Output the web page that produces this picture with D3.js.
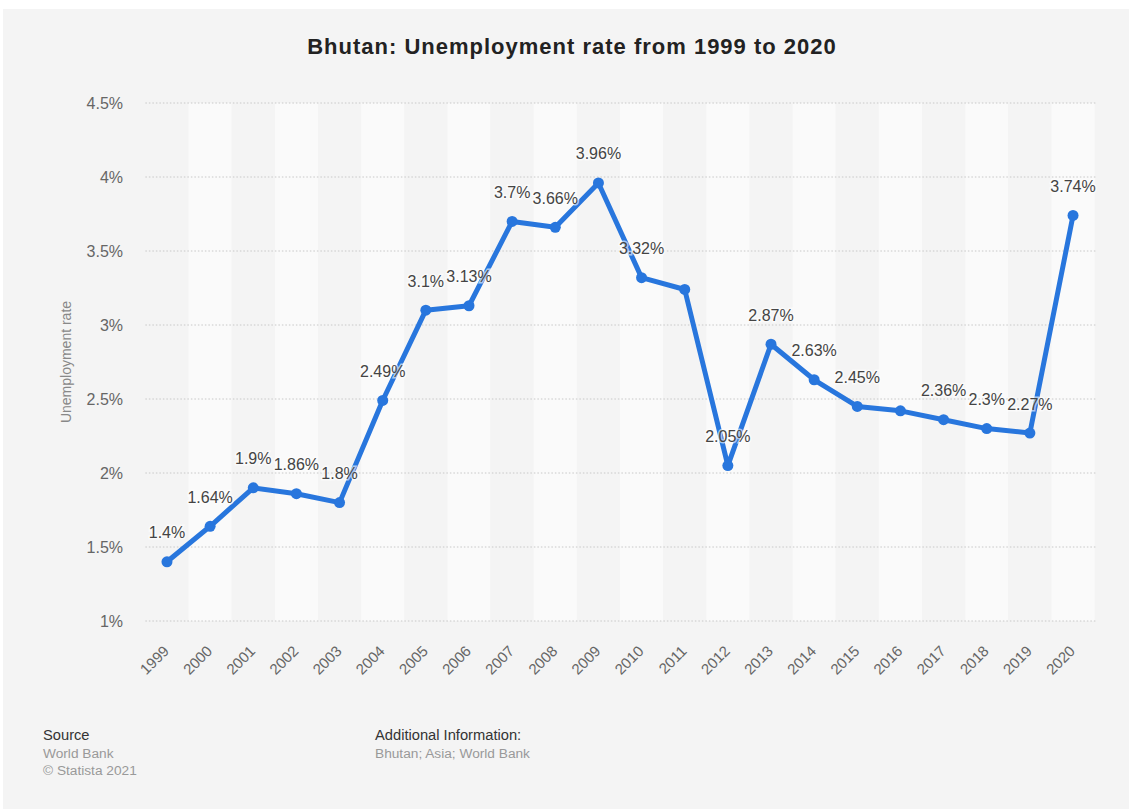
<!DOCTYPE html>
<html>
<head>
<meta charset="utf-8">
<script src="https://cdn.jsdelivr.net/npm/d3@7"></script>
<style>
html,body{margin:0;padding:0;background:#fff;}
svg{display:block;font-family:"Liberation Sans",Arial,Helvetica,sans-serif;}
</style>
</head>
<body>
<svg id="chart" width="1132" height="812"></svg>
<script>
const years = ["1999","2000","2001","2002","2003","2004","2005","2006","2007","2008","2009","2010","2011","2012","2013","2014","2015","2016","2017","2018","2019","2020"];
const rates = [1.4,1.64,1.9,1.86,1.8,2.49,3.1,3.13,3.7,3.66,3.96,3.32,3.24,2.05,2.87,2.63,2.45,2.42,2.36,2.3,2.27,3.74];
const labelShown = [true,true,true,true,true,true,true,true,true,true,true,true,false,true,true,true,true,false,true,true,true,true];
const yTicks = [1,1.5,2,2.5,3,3.5,4,4.5];
const yTickLabels = ["1%","1.5%","2%","2.5%","3%","3.5%","4%","4.5%"];
const chartTitle = "Bhutan: Unemployment rate from 1999 to 2020";
const yTitle = "Unemployment rate";

(function(){
const svg = d3.select("#chart");
svg.append("rect").attr("x",3).attr("y",9).attr("width",1126).attr("height",800).attr("fill","#f4f4f4");

const pl = 145.4, pr = 1094.6, pt = 103, pb = 621;
const x = d3.scaleBand().domain(years).range([pl,pr]).padding(0);
const y = d3.scaleLinear().domain([1,4.5]).range([pb,pt]);

svg.append("g").selectAll("rect").data(years).join("rect")
  .attr("x",d=>x(d)).attr("y",pt).attr("width",x.bandwidth()).attr("height",pb-pt)
  .attr("fill",(d,i)=> i%2===1 ? "#fafafa" : "#f4f4f4");

svg.append("g").selectAll("line").data(yTicks).join("line")
  .attr("x1",pl).attr("x2",pr+2).attr("y1",d=>y(d)).attr("y2",d=>y(d))
  .attr("stroke","#c8c8c8").attr("stroke-width",1).attr("stroke-dasharray","1.5,2");

const yAxis = d3.axisLeft(y).tickValues(yTicks).tickFormat((d,i)=>yTickLabels[i]).tickSize(0).tickPadding(0);
const gy = svg.append("g").attr("transform",`translate(${123},0)`).call(yAxis);
gy.select(".domain").remove();
gy.selectAll("text").attr("fill","#666").style("font-size","16px").attr("dy","0.35em");

const xAxis = d3.axisBottom(x).tickSize(0).tickPadding(0);
const gx = svg.append("g").attr("transform",`translate(0,${pb})`).call(xAxis);
gx.select(".domain").remove();
gx.selectAll("text").attr("fill","#666").style("font-size","15px")
  .attr("text-anchor","end").attr("dy",0).attr("y",0)
  .attr("transform","translate(3,31) rotate(-45)");

const line = d3.line().x((d,i)=>x(years[i])+x.bandwidth()/2).y(d=>y(d));
svg.append("path").datum(rates).attr("d",line).attr("fill","none")
  .attr("stroke","#2876dd").attr("stroke-width",5).attr("stroke-linejoin","round");
svg.append("g").selectAll("circle").data(rates).join("circle")
  .attr("cx",(d,i)=>x(years[i])+x.bandwidth()/2).attr("cy",d=>y(d)).attr("r",5.5).attr("fill","#2876dd");

svg.append("g").selectAll("text").data(rates.map((v,i)=>({v,i})).filter(d=>labelShown[d.i])).join("text")
  .attr("x",d=>x(years[d.i])+x.bandwidth()/2).attr("y",d=>y(d.v)-23.5)
  .attr("text-anchor","middle")
  .style("font-size","16px").attr("fill","#444")
  .attr("stroke","#fff").attr("stroke-width",3).attr("stroke-opacity",0.6).attr("paint-order","stroke")
  .text(d=>String(d.v)+"%");

svg.append("text").attr("x",572).attr("y",54).attr("text-anchor","middle")
  .style("font-size","22px").style("font-weight","bold").style("letter-spacing","1px").attr("fill","#222").text(chartTitle);

svg.append("text").attr("transform",`translate(66,${(pt+pb)/2}) rotate(-90)`).attr("text-anchor","middle")
  .attr("dy","0.35em").style("font-size","14px").attr("fill","#888").text(yTitle);

const foot = svg.append("g");
foot.append("text").attr("x",43).attr("y",740).attr("fill","#333").style("font-size","14.7px").text("Source");
foot.append("text").attr("x",43).attr("y",757.5).attr("fill","#999").style("font-size","13.7px").text("World Bank");
foot.append("text").attr("x",43).attr("y",774.5).attr("fill","#999").style("font-size","13.7px").text("© Statista 2021");
foot.append("text").attr("x",375).attr("y",740).attr("fill","#333").style("font-size","14.7px").text("Additional Information:");
foot.append("text").attr("x",375).attr("y",757.5).attr("fill","#999").style("font-size","13.7px").text("Bhutan; Asia; World Bank");
})();
</script>
</body>
</html>
